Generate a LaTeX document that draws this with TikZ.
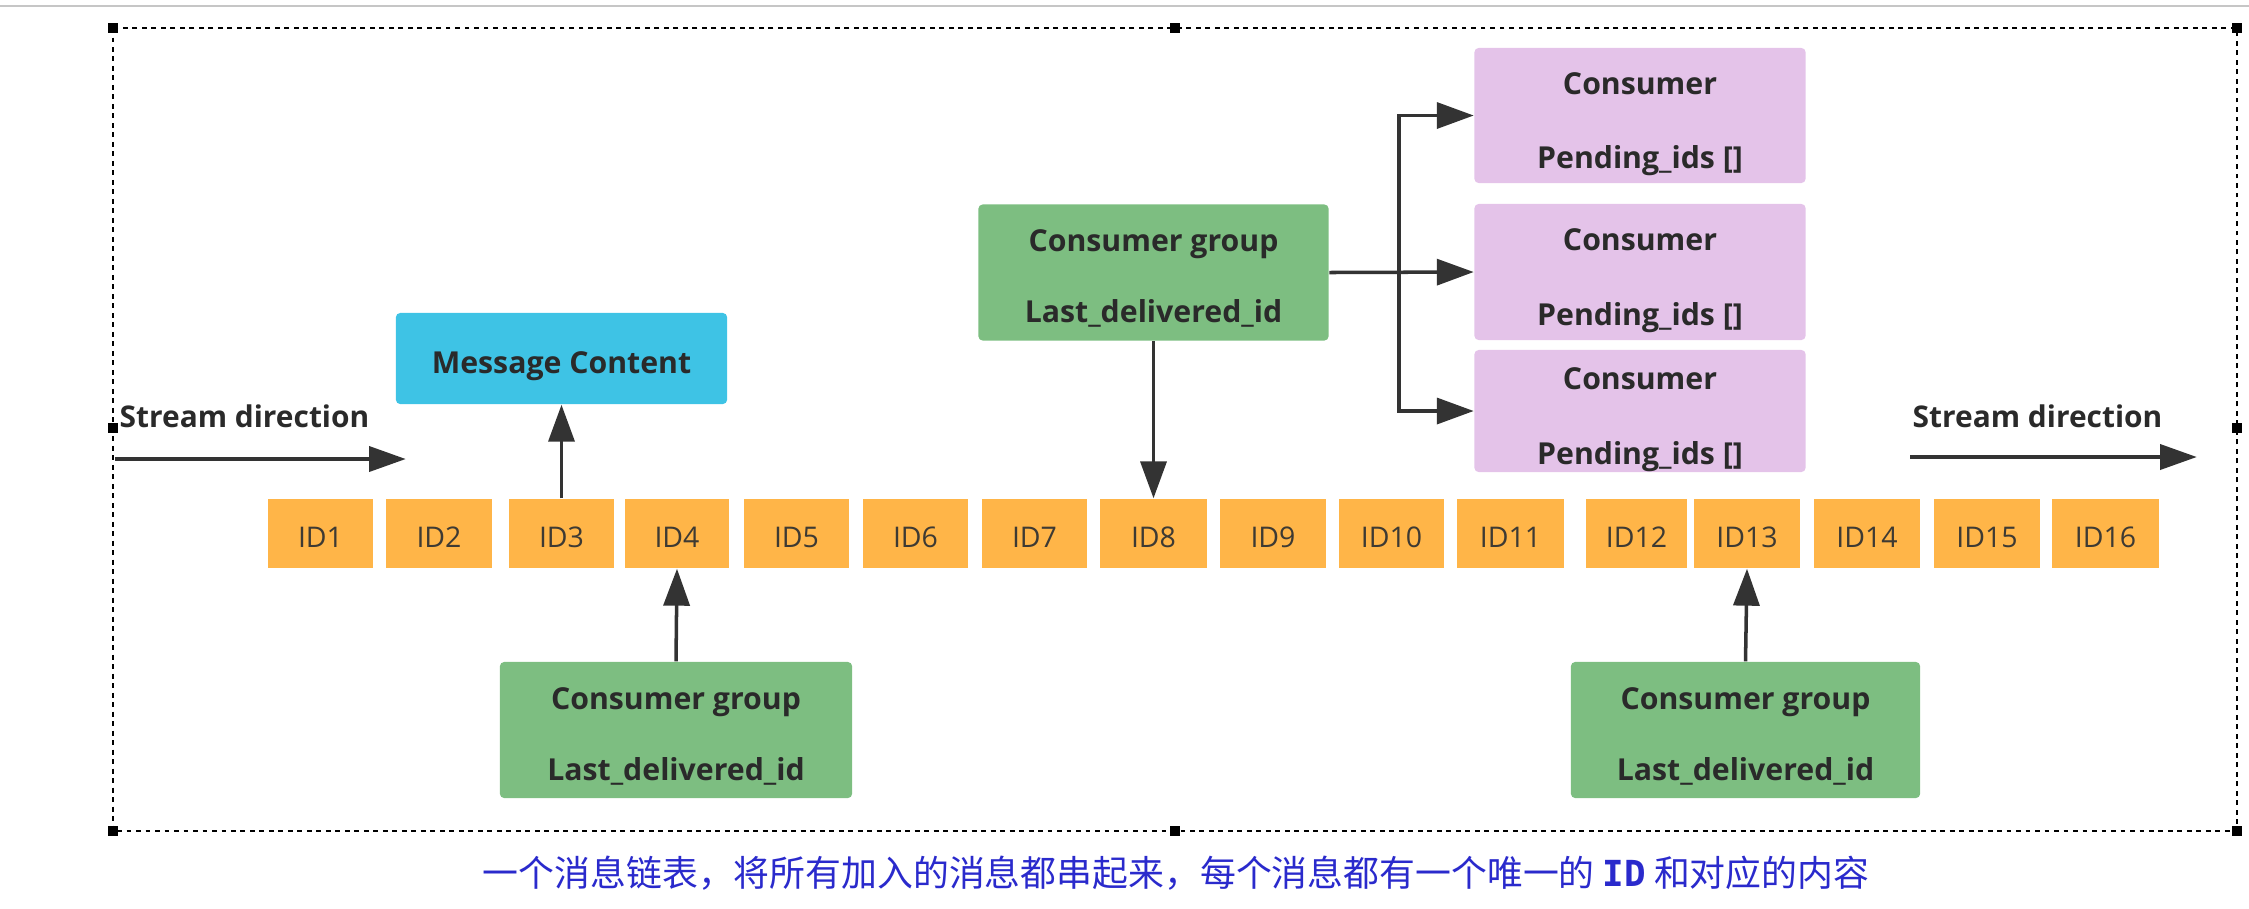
\documentclass[tikz,border=0pt]{standalone}
\usepackage{fontspec}
\setmainfont{Open Sans}
\newfontfamily\cjk{Noto Sans CJK SC}
\newfontfamily\idmono{DejaVu Sans Mono}
\usetikzlibrary{arrows.meta}
\definecolor{orangeid}{HTML}{FFB548}
\definecolor{grp}{HTML}{7DBE81}
\definecolor{pinkc}{HTML}{E4C3E9}
\definecolor{cyanc}{HTML}{3EC3E5}
\definecolor{ln}{HTML}{333333}
\definecolor{txt}{HTML}{2A2A2A}
\definecolor{idtext}{HTML}{3E3A33}
\definecolor{capblue}{HTML}{2A2ACC}
\begin{document}
\begin{tikzpicture}[x=0.01cm,y=-0.01cm,
  idbox/.style={fill=orangeid, minimum width=1.06cm, minimum height=0.69cm, inner sep=0pt,
    text height=8pt, text depth=0pt, font=\fontsize{8.1}{9}\selectfont, text=idtext},
  gbox/.style={fill=grp, rounded corners=1.2pt, minimum width=3.5cm, minimum height=1.36cm, inner sep=0pt},
  pbox/.style={fill=pinkc, rounded corners=1.2pt, minimum width=3.31cm, inner sep=0pt},
  mbox/.style={fill=cyanc, rounded corners=1.2pt, minimum width=3.31cm, minimum height=0.91cm, inner sep=0pt},
  gtext/.style={align=center, inner sep=0pt, yshift=-1.7pt, font=\bfseries\fontsize{8.6}{20.2}\selectfont, text=txt},
  ptext/.style={align=center, inner sep=0pt, yshift=-2.5pt, font=\bfseries\fontsize{8.6}{21.2}\selectfont, text=txt},
  mtext/.style={inner sep=0pt, yshift=-2.2pt, font=\bfseries\fontsize{8.6}{10}\selectfont, text=txt},
  lbl/.style={inner sep=0pt, anchor=west, font=\bfseries\fontsize{8.5}{10}\selectfont, text=txt},
  conn/.style={draw=ln, line width=1pt, -{Triangle[length=10.5pt,width=7.4pt]}},
  stream/.style={draw=ln, line width=1.4pt, -{Triangle[length=10.5pt,width=7pt]}},
  handle/.style={fill=black}
]
\useasboundingbox (0,0) rectangle (2249,908);
% screenshot top rule
\draw[gray!45, line width=0.6pt] (0,6) -- (2249,6);
% dotted selection frame
\draw[black, line width=0.6pt, dash pattern=on 1.4pt off 1.3pt] (113,28) rectangle (2237,831);
\foreach \hx/\hy in {113/28, 1175/28, 2237/28, 113/428, 2237/428, 113/831, 1175/831, 2237/831}
  \fill[handle] (\hx-5,\hy-5) rectangle (\hx+5,\hy+5);

% ID boxes
\foreach \n/\cx/\w in {1/320.5/1.05, 2/439/1.06, 3/561.5/1.05, 4/677/1.04, 5/796.5/1.05,
  6/915.5/1.05, 7/1034.5/1.05, 8/1153.5/1.07, 9/1273/1.06, 10/1391.5/1.05, 11/1510.5/1.07,
  12/1636.5/1.01, 13/1747/1.06, 14/1867/1.06, 15/1987/1.06, 16/2105.5/1.07}
  \node[idbox, minimum width=\w cm] (id\n) at (\cx,533.5) {ID\n};

% message content
\node[mbox] (mc) at (561.5,358.5) {};
\node[mtext] (mct) at (mc.center) {Message Content};
\draw[conn] (id3.north) -- (mc.south);

% stream direction
\node[lbl] (sl1) at (119,416) {Stream direction};
\node[lbl] (sl2) at (1912,416) {Stream direction};
\coordinate (s1a) at (115,459);
\coordinate (s1b) at (406,459);
\coordinate (s2a) at (1910,457);
\coordinate (s2b) at (2197,457);
\draw[stream] (s1a) -- (s1b);
\draw[stream] (s2a) -- (s2b);

% middle consumer group and consumers
\node[gbox] (gm) at (1153.5,272.5) {};
\node[gtext] (gmt) at (gm.center) {Consumer group\\Last\_delivered\_id};
\node[pbox, minimum height=1.35cm] (p1) at (1640,115.5) {};
\node[pbox, minimum height=1.36cm] (p2) at (1640,272) {};
\node[pbox, minimum height=1.22cm] (p3) at (1640,411) {};
\node[ptext] (p1t) at (p1.center) {Consumer\\Pending\_ids []};
\node[ptext] (p2t) at (p2.center) {Consumer\\Pending\_ids []};
\node[ptext] (p3t) at (p3.center) {Consumer\\Pending\_ids []};
\draw[conn] (gm.south) -- (id8.north);
\coordinate (tr) at (1399,272);
\draw[conn] (gm.east) -- (p2.west);
\draw[conn] (tr) |- (p1.west);
\draw[conn] (tr) |- (p3.west);

% bottom consumer groups
\node[gbox, minimum width=3.52cm] (gl) at (676,730) {};
\node[gbox, minimum width=3.49cm] (gr) at (1745.5,730) {};
\node[gtext] (glt) at (gl.center) {Consumer group\\Last\_delivered\_id};
\node[gtext] (grt) at (gr.center) {Consumer group\\Last\_delivered\_id};
\draw[conn] (gl.north) -- (id4.south);
\draw[conn] (gr.north) -- (id13.south);

% caption
\node[inner sep=0pt, text=capblue, font=\fontsize{10.2}{12}\selectfont] (cap) at (1176,873)
  {\cjk 一个消息链表，将所有加入的消息都串起来，每个消息都有一个唯一的 {\idmono\bfseries ID} 和对应的内容};
\end{tikzpicture}
\end{document}
